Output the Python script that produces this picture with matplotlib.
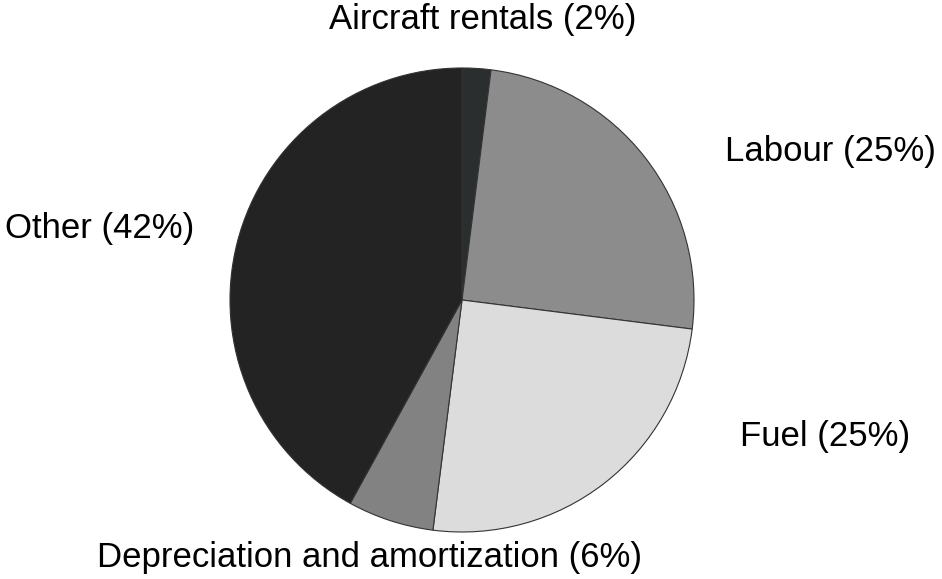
import matplotlib.pyplot as plt

# airline operating cost breakdown, percent of total
categories = ['Aircraft rentals', 'Labour', 'Fuel', 'Depreciation and amortization', 'Other']
shares = [2, 25, 25, 6, 42]
colors = ['#2b2e2e', '#8c8c8c', '#dcdcdc', '#828282', '#232323']

# label anchors (pie radius = 1, centre at origin) and alignment
label_pos = [(0.09, 1.207), (1.132, 0.64), (1.20, -0.59), (-0.40, -1.112), (-1.155, 0.31)]
label_ha = ['center', 'left', 'left', 'center', 'right']

W, H = 942, 579
cx, cy, r = 462, 300, 232

fig = plt.figure(figsize=(W / 100, H / 100), dpi=100)
ax = fig.add_axes([0, 0, 1, 1])
ax.pie(shares, colors=colors, startangle=90, counterclock=False, radius=1,
       wedgeprops=dict(edgecolor='#333333', linewidth=0.8))
ax.set_xlim(-cx / r, (W - cx) / r)
ax.set_ylim(-(H - cy) / r, cy / r)
ax.set_aspect('equal')
ax.axis('off')

for name, val, (x, y), ha in zip(categories, shares, label_pos, label_ha):
    ax.text(x, y, f'{name} ({val}%)', ha=ha, va='center', fontsize=25,
            family='Liberation Sans', color='black')

fig.savefig('out.png', dpi=100)
